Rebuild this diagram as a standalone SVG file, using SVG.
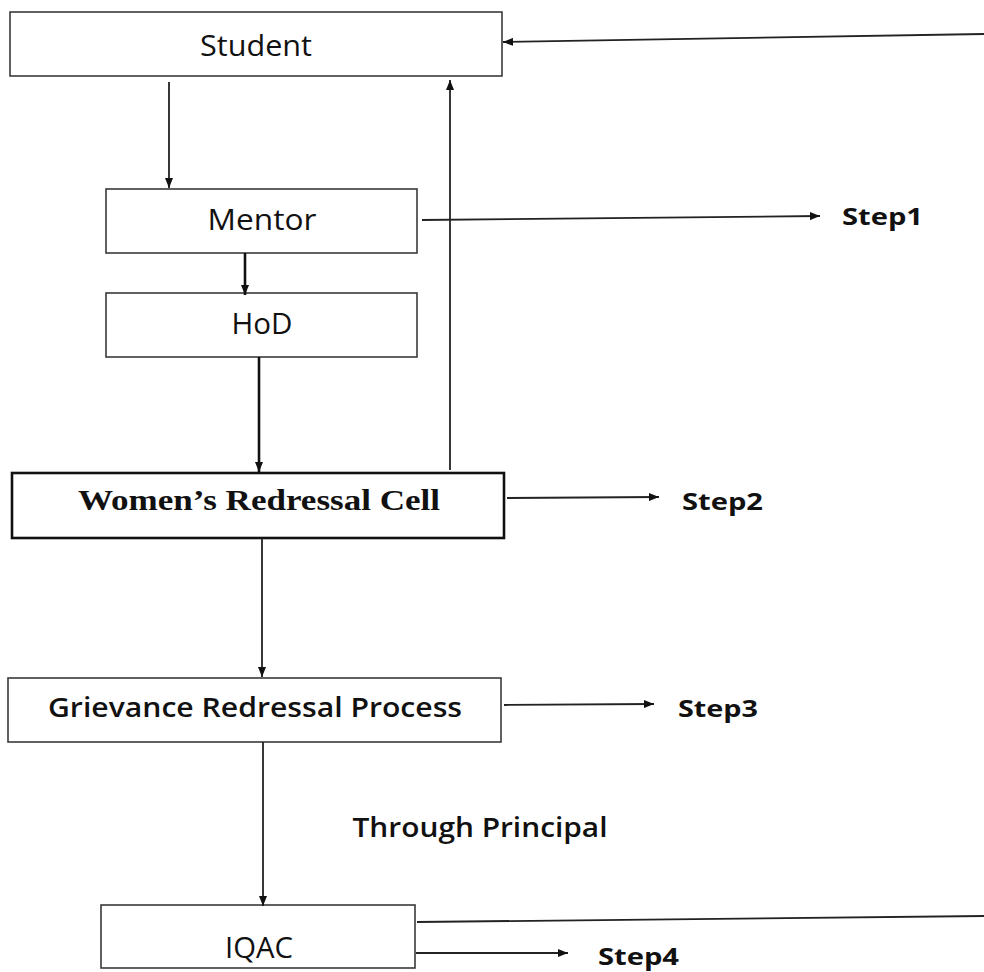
<svg xmlns="http://www.w3.org/2000/svg" width="984" height="972" viewBox="0 0 984 972">
<style>
.box{fill:#fff;stroke:#3a3a3a;stroke-width:1.6}
.boxb{fill:#fff;stroke:#111;stroke-width:2.6}
.t{font-family:"Open Sans","Liberation Sans",sans-serif;font-size:29px;fill:#111;text-anchor:middle}
.sb{font-weight:600;font-size:27px}
.st{font-family:"Open Sans","Liberation Sans",sans-serif;font-size:24px;font-weight:bold;fill:#111}
.tr{font-family:"Liberation Serif","Times New Roman",serif;font-size:30px;font-weight:bold;fill:#111;text-anchor:middle}
.c{fill:none;stroke:#222;stroke-width:1.8}
.c2{fill:none;stroke:#111;stroke-width:2.6}
</style>
<defs>
<marker id="ah" viewBox="0 0 10 8" refX="10" refY="4" markerWidth="10" markerHeight="8" markerUnits="userSpaceOnUse" orient="auto">
<path d="M0,0 L10,4 L0,8 Z" fill="#111"/>
</marker>
</defs>
<g id="student"><rect class="box" x="10" y="12" width="492" height="64"/><text class="t" x="256" y="56" textLength="112" lengthAdjust="spacingAndGlyphs">Student</text></g>
<g id="mentor"><rect class="box" x="106" y="189" width="311" height="64"/><text class="t" x="262" y="230" textLength="109" lengthAdjust="spacingAndGlyphs">Mentor</text></g>
<g id="hod"><rect class="box" x="106" y="293" width="311" height="64"/><text class="t" x="262" y="334" textLength="61" lengthAdjust="spacingAndGlyphs">HoD</text></g>
<g id="wrc"><rect class="boxb" x="12" y="473" width="492" height="65"/><text class="tr" x="259" y="510" textLength="362" lengthAdjust="spacingAndGlyphs">Women’s Redressal Cell</text></g>
<g id="grievance"><rect class="box" x="8" y="678" width="493" height="64"/><text class="t sb" x="255" y="717" textLength="414" lengthAdjust="spacingAndGlyphs">Grievance Redressal Process</text></g>
<g id="iqac"><rect class="box" x="101" y="905" width="314" height="63"/><text class="t" x="259" y="958" textLength="68" lengthAdjust="spacingAndGlyphs">IQAC</text></g>
<g id="labels">
<text class="st" x="842" y="225" textLength="81" lengthAdjust="spacingAndGlyphs">Step1</text>
<text class="st" x="682" y="510" textLength="81" lengthAdjust="spacingAndGlyphs">Step2</text>
<text class="st" x="678" y="717" textLength="80" lengthAdjust="spacingAndGlyphs">Step3</text>
<text class="st" x="598" y="965" textLength="81" lengthAdjust="spacingAndGlyphs">Step4</text>
<text class="t sb" x="480" y="837" textLength="255" lengthAdjust="spacingAndGlyphs">Through Principal</text>
</g>
<g id="connectors">
<path class="c" d="M984,34 L503,42" marker-end="url(#ah)"/>
<path class="c" d="M169,82 L169,188" marker-end="url(#ah)"/>
<path class="c" d="M450,470 L450,80" marker-end="url(#ah)"/>
<path class="c" d="M422,220 L820,216" marker-end="url(#ah)"/>
<path class="c2" d="M245,253 L245,295" marker-end="url(#ah)"/>
<path class="c2" d="M259,357 L259,472" marker-end="url(#ah)"/>
<path class="c" d="M507,498 L659,497" marker-end="url(#ah)"/>
<path class="c" d="M262,538 L262,677" marker-end="url(#ah)"/>
<path class="c" d="M504,705 L654,704" marker-end="url(#ah)"/>
<path class="c" d="M263,742 L263,906" marker-end="url(#ah)"/>
<path class="c" d="M417,922 L984,916"/>
<path class="c" d="M416,953 L568,953" marker-end="url(#ah)"/>
</g>
</svg>
